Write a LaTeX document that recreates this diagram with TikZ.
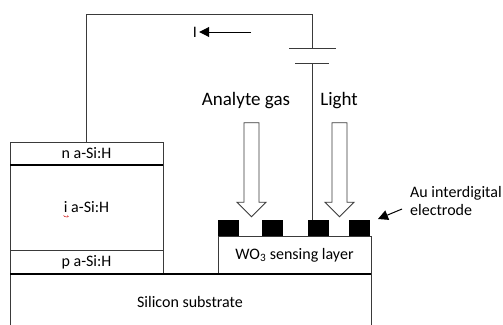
\documentclass[tikz,border=0pt]{standalone}
\usepackage{fontspec}
\setmainfont{Carlito}
\usepackage{tikz}
\usetikzlibrary{positioning, shapes.arrows, arrows.meta}
\definecolor{wireGray}{HTML}{3A3A3A}

\begin{document}
\begin{tikzpicture}[x=1pt, y=-1pt, font=\fontsize{16}{18.5}\selectfont,
  layer/.style={draw=wireGray, line width=0.9pt, minimum width=153pt, outer sep=0pt, inner sep=0pt, align=center},
  sensor/.style={draw=wireGray, line width=0.9pt, minimum width=153pt, minimum height=38pt, outer sep=0pt, inner sep=0pt},
  substrate/.style={draw=wireGray, line width=0.9pt, minimum width=361pt, minimum height=56pt, outer sep=0pt},
  electrode/.style={fill=black, minimum width=21pt, minimum height=16pt, outer sep=0pt, inner sep=0pt},
  flow/.style={single arrow, draw=wireGray, line width=0.9pt, fill=white, shape border rotate=270,
    minimum height=94pt, minimum width=29pt, single arrow head extend=7pt, inner sep=7pt, outer sep=0pt},
  wire/.style={wireGray, line width=1pt},
  border/.style={black, line width=1.6pt},
  arr/.style={-{Triangle[length=10pt, width=10pt]}, line width=1pt, black}]

\useasboundingbox (0,0) rectangle (503,324);

% layers on the substrate
\node[substrate, anchor=north west] (sub) at (10,274) {};
\node (st) at (190,302) {Silicon substrate};
\node[layer, minimum height=24pt, anchor=south west] (pl) at (10,274) {p a-Si:H};
\node[layer, minimum height=85pt, above=0pt of pl] (il) {i a-Si:H};
\node[layer, minimum height=23pt, above=0pt of il] (nl) {n a-Si:H};
\node[sensor, anchor=south east] (wo) at (371,274) {WO\textsubscript{3} sensing layer};

\draw[border] (sub.north west) -- (sub.north east);
\draw[border] (nl.south west) -- (nl.south east);

% electrodes
\node[electrode, anchor=south west] (e1) at (wo.north west) {};
\node[electrode, right=23pt of e1] (e2) {};
\node[electrode, right=25pt of e2] (e3) {};
\node[electrode, right=20pt of e3] (e4) {};

% battery
\coordinate (pa) at (312,48);
\coordinate (pb) at (312,63);
\draw[wire] (289,48) -- (336,48);
\draw[wire] (295,63) -- (329,63);
\coordinate (cn) at (312,14);
\draw[wire] (nl.north) |- (cn) -- (pa);
\draw[wire] (pb) -- (pb |- e3.north);

% current
\node[inner sep=2pt] (cur) at (195,32) {I};
\coordinate (cs) at (251,32);
\draw[arr] (cs) -- (cur);

% gas and light
\node[flow] (ga) at (251.5,166) {};
\node[flow] (li) at (339.5,166) {};
\node (gl) at (246,101) {\fontsize{19}{22}\selectfont Analyte gas};
\node (ll) at (339,101) {\fontsize{19}{22}\selectfont Light};

% electrode label
\node[align=left, anchor=west, inner sep=0pt] (au) at (410,201) {Au interdigital\\electrode};
\coordinate (at) at (402,209);
\coordinate (ah) at (378,219);
\draw[arr] (at) -- (ah);

% spell check mark
\draw[red!80!black, line width=0.5pt] (il.center) ++(-23,8) .. controls +(1,2) and +(3,2) .. +(4,0);

\end{tikzpicture}
\end{document}
